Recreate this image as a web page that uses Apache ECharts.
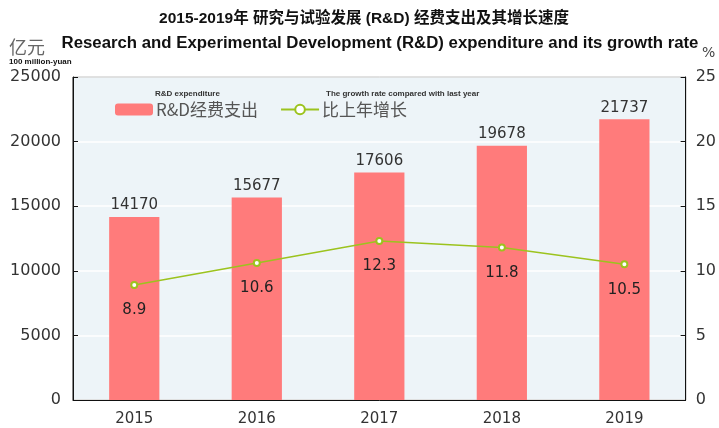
<!DOCTYPE html>
<html>
<head>
<meta charset="utf-8">
<script src="https://cdn.jsdelivr.net/npm/echarts@6/dist/echarts.min.js"></script>
<style>
  html, body { margin: 0; padding: 0; background: #fff; }
  #chart { width: 719px; height: 428px; }
</style>
</head>
<body>
<div id="chart"></div>
<script>
// 年份
const years = ["2015", "2016", "2017", "2018", "2019"];
// R&D经费支出（亿元）
const spending = [14170, 15677, 17606, 19678, 21737];
// 比上年增长（%）
const growth = [8.9, 10.6, 12.3, 11.8, 10.5];

const numFont = "'DejaVu Sans', 'Noto Sans CJK SC', sans-serif";

const option = {
  backgroundColor: "#fff",
  animation: false,
  title: [
    {
      text: "2015-2019年 研究与试验发展 (R&D) 经费支出及其增长速度",
      left: 359,
      textAlign: "center",
      top: 6,
      textStyle: { fontFamily: "'Liberation Sans', 'Noto Sans CJK SC'", fontSize: 15.5, fontWeight: "bold", color: "#111" }
    },
    {
      text: "Research and Experimental Development (R&D) expenditure and its growth rate",
      left: 375,
      textAlign: "center",
      top: 30,
      textStyle: { fontFamily: "'Liberation Sans', sans-serif", fontSize: 16.8, fontWeight: "bold", color: "#111" }
    }
  ],
  legend: {
    left: 110,
    top: 96,
    itemWidth: 38,
    itemHeight: 12,
    itemGap: 22,
    textStyle: { fontFamily: "'Noto Sans CJK SC'", fontSize: 17, color: "#555", padding: [0, 0, 0, -2] },
    data: ["R&D经费支出", "比上年增长"]
  },
  graphic: [
    { type: "text", left: 9, top: 38, style: { text: "亿元", font: "18px 'Noto Sans CJK SC'", fill: "#666" } },
    { type: "text", left: 9, top: 58, style: { text: "100 million-yuan", font: "bold 8px 'Liberation Sans'", fill: "#111" } },
    { type: "text", left: 702, top: 46, style: { text: "%", font: "14px 'DejaVu Sans'", fill: "#444" } },
    { type: "text", left: 155, top: 90, style: { text: "R&D expenditure", font: "bold 8px 'Liberation Sans'", fill: "#333" } },
    { type: "text", left: 326, top: 90, style: { text: "The growth rate compared with last year", font: "bold 8px 'Liberation Sans'", fill: "#333" } }
  ],
  grid: {
    left: 73,
    right: 32,
    top: 77,
    bottom: 28,
    show: true,
    backgroundColor: "#EDF4F8",
    borderColor: "#111",
    borderWidth: 1
  },
  xAxis: {
    type: "category",
    data: years,
    axisLine: { lineStyle: { color: "#111" } },
    axisTick: { show: false },
    axisLabel: { fontFamily: numFont, fontSize: 15, color: "#333", margin: 12 }
  },
  yAxis: [
    {
      type: "value",
      min: 0,
      max: 25000,
      interval: 5000,
      axisLine: { show: true, lineStyle: { color: "#111" } },
      axisTick: { show: true, inside: true, length: 5, lineStyle: { color: "#111" } },
      axisLabel: { fontFamily: numFont, fontSize: 16, color: "#333", margin: 12, formatter: v => String(v) },
      splitLine: { lineStyle: { color: "#fff", width: 1.5 } }
    },
    {
      type: "value",
      min: 0,
      max: 25,
      interval: 5,
      axisLine: { show: true, lineStyle: { color: "#111" } },
      axisTick: { show: true, inside: true, length: 5, lineStyle: { color: "#111" } },
      axisLabel: { fontFamily: numFont, fontSize: 16, color: "#333", margin: 10 },
      splitLine: { show: false }
    }
  ],
  series: [
    {
      name: "R&D经费支出",
      type: "bar",
      data: spending,
      barWidth: "41%",
      itemStyle: { color: "#FF7B7B" },
      label: {
        show: true,
        position: "top",
        distance: 4,
        fontFamily: numFont,
        fontSize: 15,
        color: "#333"
      }
    },
    {
      name: "比上年增长",
      type: "line",
      yAxisIndex: 1,
      data: growth,
      symbol: "emptyCircle",
      symbolSize: 6,
      lineStyle: { color: "#9CC31E", width: 1.5 },
      itemStyle: { color: "#9CC31E", borderColor: "#C8D82A", borderWidth: 1.5 },
      label: {
        show: true,
        position: "bottom",
        distance: 14,
        fontFamily: numFont,
        fontSize: 15,
        color: "#222",
        formatter: p => p.value.toFixed(1)
      }
    }
  ]
};

const myChart = echarts.init(document.getElementById("chart"));
myChart.setOption(option);
</script>
</body>
</html>
